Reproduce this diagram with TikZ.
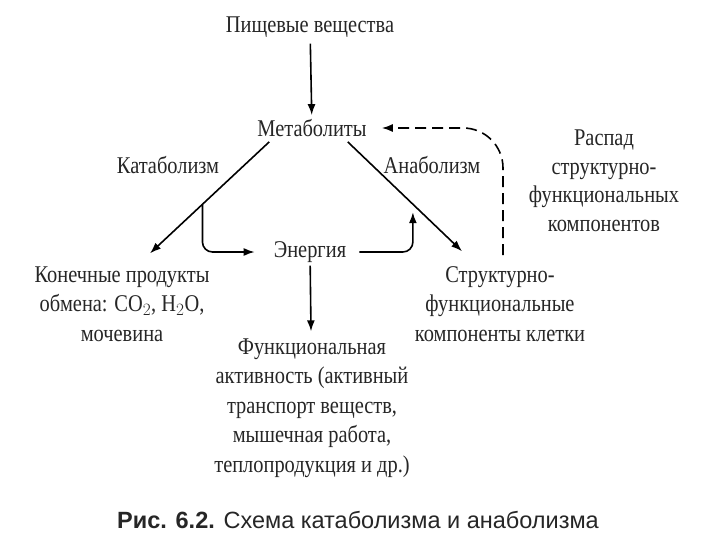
\documentclass[tikz,border=0pt]{standalone}
\usepackage{fontspec}
\setmainfont{Liberation Serif}[FakeStretch=0.85]
\newfontfamily\capfont{Liberation Sans}
\usetikzlibrary{arrows.meta,positioning}
\tikzset{term/.style={align=center,inner sep=1pt,text=black!85,font=\fontsize{24}{29}\selectfont},
		pre/.style={<-,>={Latex[length=11pt,width=8pt]},line width=1.6pt},
		post/.style={->,>={Latex[length=11pt,width=8pt]},line width=1.6pt}}

\begin{document}
\begin{tikzpicture}[x=1pt,y=-1pt,
		side/.style={term,font=\fontsize{24}{29.5}\selectfont},
		back/.style={post,dashed,dash pattern=on 11pt off 6pt,rounded corners=40pt}]
		\useasboundingbox[fill=white] (0,0) rectangle (720,540);
		\node[term] (nutrients) at (310,27) {Пищевые вещества};
		\node[term] (metabolites) at (312,128) {Метаболиты} edge[pre,shorten >=5pt,shorten <=3pt] (nutrients);
		\node[term] (catabolism) at (168,165) {Катаболизм};
		\node[term] (anabolism) at (432,165) {Анаболизм};
		\node[term] (energy) at (310,252) {Энергия};
		
		\node[side] (end-products) at (122,304) {Конечные продукты\\обмена: CO$_2$, H$_2$O,\\мочевина};
		\node[side] (structural) at (500,304) {Структурно-\\функциональные\\компоненты клетки};
		\node[side] (function) at (312,408) {Функциональная\\активность (активный\\транспорт веществ,\\мышечная работа,\\теплопродукция и др.)};
		\node[term,font=\fontsize{24}{28.5}\selectfont] (decay) at (604,181) {Распад\\структурно-\\функциональных\\компонентов};
		
		\draw[post] ([shift={(13,4)}]metabolites.south west) -- coordinate[pos=0.56] (cat-branch) ([shift={(28,-12)}]end-products.north);
		\draw[post] ([shift={(-20,4)}]metabolites.south east) -- coordinate[pos=0.57] (ana-branch) ([shift={(-38,-14)}]structural.north);
		\draw[post,rounded corners=10pt,shorten >=18pt] (cat-branch) |- (energy.west);
		\draw[post,rounded corners=10pt,shorten <=12pt,shorten >=8pt] (energy.east) -| (ana-branch);
		\draw[post,shorten <=2pt,shorten >=6pt] (energy) -- (function);
		\draw[back,shorten >=14pt] ([shift={(3,-10)}]structural.north) |- (metabolites.east);
		
		\node[font=\capfont\fontsize{23.5}{26}\selectfont,text=black!85] (caption) at (358,520) {{\bfseries Рис. 6.2.} Схема катаболизма и анаболизма};
	\end{tikzpicture}
\end{document}
